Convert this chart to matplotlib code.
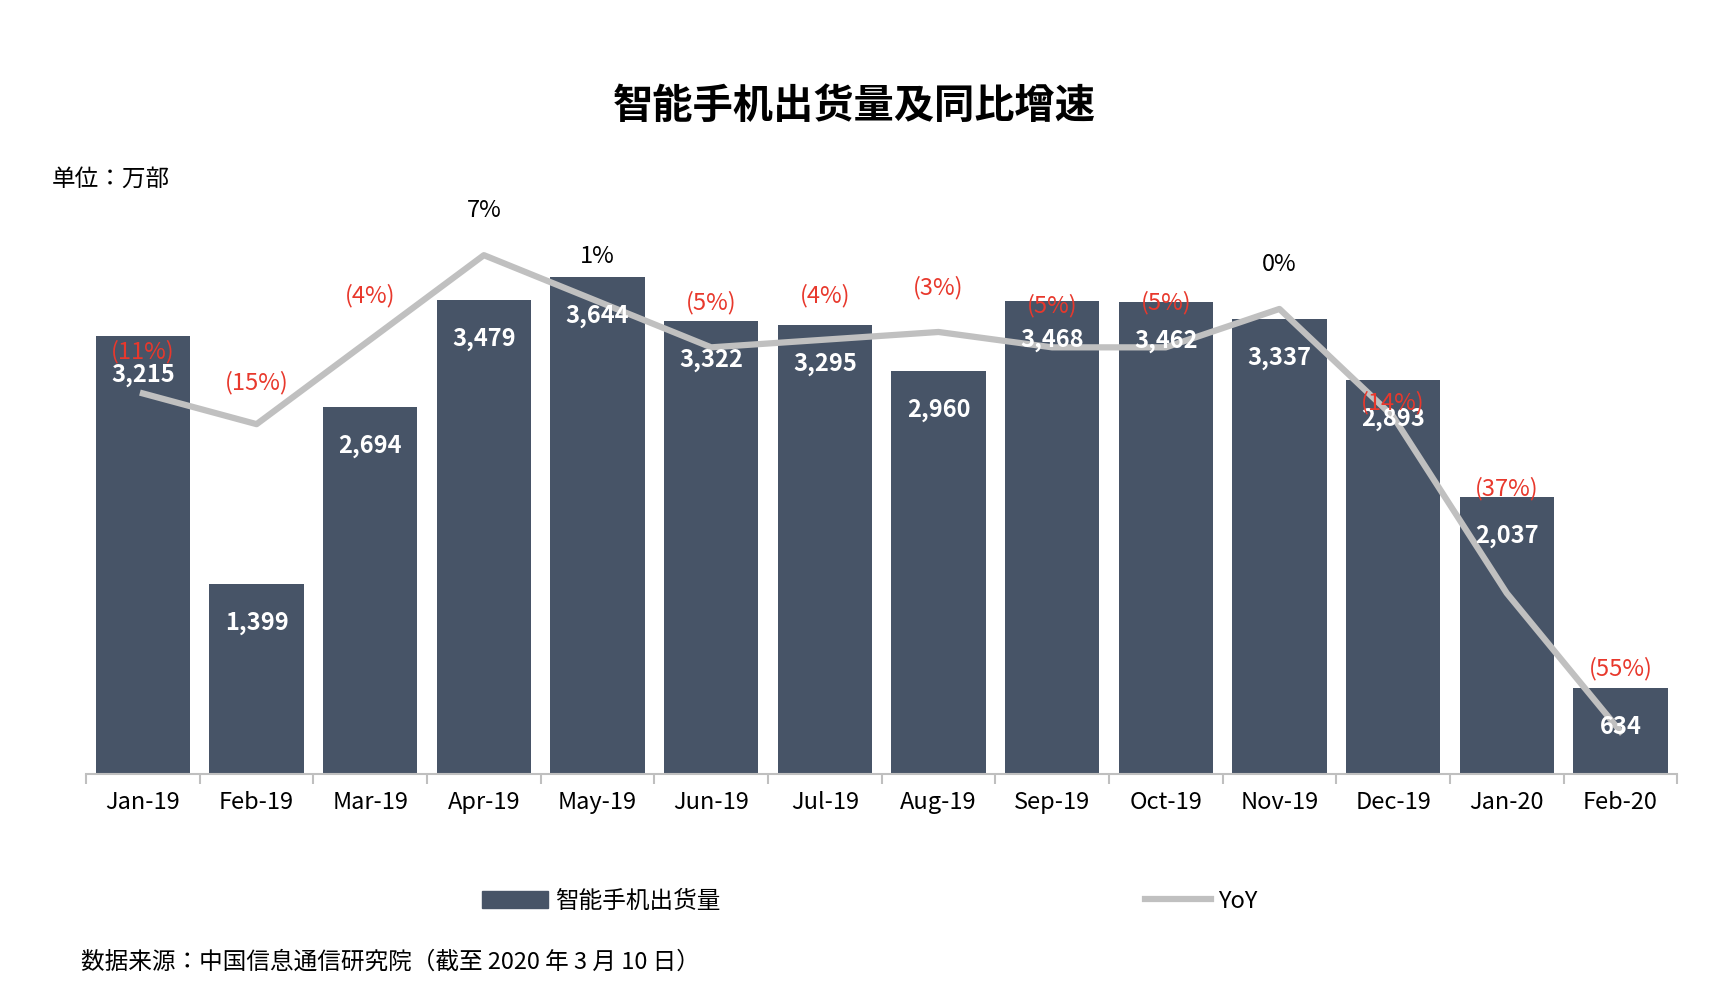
import matplotlib
matplotlib.use("Agg")
import matplotlib.pyplot as plt
from matplotlib import font_manager as fm
import numpy as np, glob, os

cjk = None
for f in fm.fontManager.ttflist:
    if "CJK" in f.name and "SC" in f.name:
        cjk = f.name; break
if cjk is None:
    for pat in ["/usr/share/fonts/**/*CJK*", "/usr/local/share/fonts/**/*CJK*", os.path.expanduser("~/.fonts/**/*CJK*")]:
        for p in glob.glob(pat, recursive=True):
            if p.lower().endswith((".ttc", ".otf", ".ttf")):
                try:
                    fm.fontManager.addfont(p)
                    cjk = fm.FontProperties(fname=p).get_name()
                    break
                except Exception:
                    pass
        if cjk: break
if cjk is None:
    for f in fm.fontManager.ttflist:
        if "CJK" in f.name:
            cjk = f.name; break
plt.rcParams["font.family"] = [cjk or "Noto Sans CJK SC", "DejaVu Sans"]

months = ["Jan-19","Feb-19","Mar-19","Apr-19","May-19","Jun-19","Jul-19","Aug-19",
          "Sep-19","Oct-19","Nov-19","Dec-19","Jan-20","Feb-20"]
shipments = [3215,1399,2694,3479,3644,3322,3295,2960,3468,3462,3337,2893,2037,634]
yoy = [-11,-15,-4,7,1,-5,-4,-3,-5,-5,0,-14,-37,-55]
yoy_labels = ["(11%)","(15%)","(4%)","7%","1%","(5%)","(4%)","(3%)","(5%)","(5%)","0%","(14%)","(37%)","(55%)"]
yoy_offsets = [30,30,32,32,32,32,32,32,30,32,32,10,75,45]

fig = plt.figure(figsize=(17.22, 9.98), dpi=100)
ax = fig.add_axes([0.050, 0.224, 0.924, 0.615])
x = np.arange(len(months))
ax.bar(x, shipments, width=0.83, color="#475467", zorder=1)
ax.set_ylim(0, 4500)
ax.set_xlim(-0.5, len(months) - 0.5)
for s in ["top", "right", "left"]:
    ax.spines[s].set_visible(False)
ax.spines["bottom"].set_color("#bfbfbf")
ax.spines["bottom"].set_linewidth(1.5)
ax.set_yticks([])
ax.set_xticks(x)
ax.set_xticklabels(months, fontsize=17)
ax.tick_params(axis="x", which="major", length=0, pad=12)
ax.set_xticks(np.arange(-0.5, len(months), 1), minor=True)
ax.tick_params(axis="x", which="minor", length=7, color="#bfbfbf", width=1.5)

ax2 = ax.twinx()
ax2.set_ylim(-60.6, 19.3)
ax2.axis("off")
ax2.plot(x, yoy, color="#c0c0c0", lw=4.5, zorder=2)

for i, v in enumerate(shipments):
    ax2.annotate(f"{v:,}", xy=(i, (v / 4500) * 79.9 - 60.6), xytext=(0, -28),
                 textcoords="offset points", ha="center", va="center",
                 color="white", fontsize=17, fontweight="bold", zorder=5)
for i, (v, lab) in enumerate(zip(yoy, yoy_labels)):
    ax2.annotate(lab, xy=(i, v), xytext=(0, yoy_offsets[i]), textcoords="offset points",
                 ha="center", va="center", fontsize=17,
                 color="#e8382c" if v < 0 else "black", zorder=5)

fig.text(0.496, 0.893, "智能手机出货量及同比增速", ha="center", va="center",
         fontsize=29, fontweight="bold")
fig.text(0.030, 0.82, "单位：万部", ha="left", va="center", fontsize=17)
fig.text(0.047, 0.036, "数据来源：中国信息通信研究院（截至 2020 年 3 月 10 日）",
         ha="left", va="center", fontsize=17)

from matplotlib.patches import Patch
from matplotlib.lines import Line2D
handles = [Patch(color="#475467"), Line2D([0], [0], color="#c0c0c0", lw=4.5)]
fig.legend(handles, ["智能手机出货量", "YoY"], loc="center", bbox_to_anchor=(0.505, 0.097),
           ncol=2, frameon=False, fontsize=17, columnspacing=18, handlelength=2.8,
           handletextpad=0.3)

fig.savefig("out.png", dpi=100)
